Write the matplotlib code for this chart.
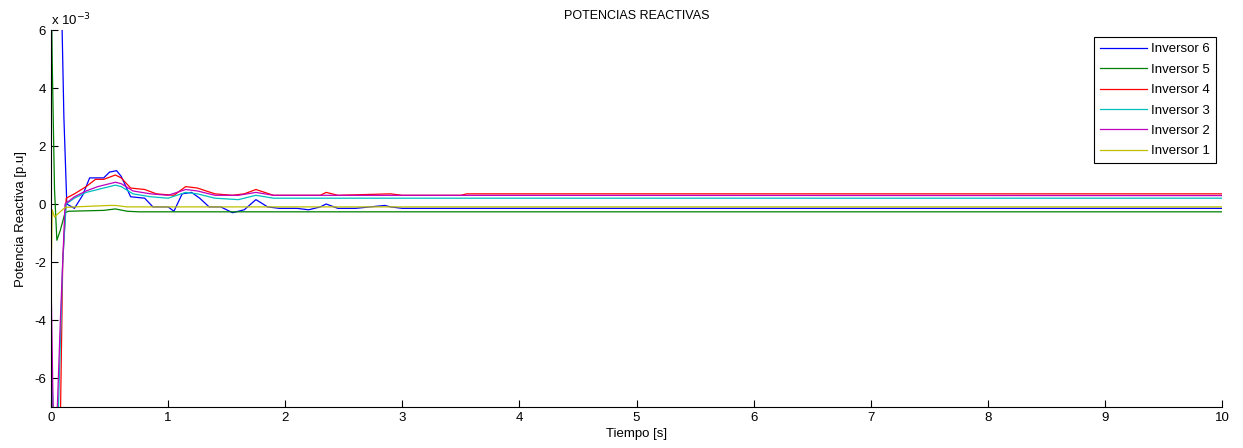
import matplotlib.pyplot as plt

plt.rcParams['font.family'] = ['Liberation Sans', 'DejaVu Sans']
plt.rcParams['axes.unicode_minus'] = False

# values in units of 1e-3 p.u.
t6 = [0, 0.005, 0.09, 0.11, 0.135, 0.2, 0.27, 0.33, 0.45, 0.5, 0.56, 0.6, 0.68, 0.8, 0.87,
      1.0, 1.05, 1.12, 1.2, 1.27, 1.35, 1.45, 1.55, 1.65, 1.75, 1.85, 1.95, 2.1, 2.2, 2.3,
      2.35, 2.45, 2.6, 2.85, 2.9, 3.0, 3.5, 3.7, 10]
q6 = [-2, 7, 7, 3, 0.0, -0.15, 0.3, 0.9, 0.9, 1.1, 1.15, 0.95, 0.25, 0.2, -0.1,
      -0.1, -0.25, 0.35, 0.4, 0.2, -0.1, -0.1, -0.3, -0.2, 0.15, -0.1, -0.15, -0.15, -0.2, -0.1,
      0.0, -0.15, -0.15, -0.05, -0.1, -0.15, -0.15, -0.15, -0.15]

t5 = [0, 0.003, 0.01, 0.03, 0.05, 0.08, 0.12, 0.15, 0.45, 0.55, 0.65, 0.75, 10]
q5 = [7, 7, 5, 0.5, -1.25, -0.9, -0.3, -0.25, -0.22, -0.17, -0.25, -0.27, -0.27]

t4 = [0, 0.02, 0.05, 0.08, 0.1, 0.13, 0.2, 0.3, 0.38, 0.45, 0.55, 0.6, 0.68, 0.8, 0.9,
      1.05, 1.15, 1.25, 1.4, 1.55, 1.65, 1.75, 1.9, 2.3, 2.35, 2.45, 2.9, 3.0, 3.5, 3.55, 10]
q4 = [-5.5, -7.5, -7.5, -7.5, -2, 0.2, 0.35, 0.6, 0.85, 0.85, 1.0, 0.9, 0.55, 0.5, 0.35,
      0.3, 0.6, 0.55, 0.35, 0.3, 0.35, 0.5, 0.3, 0.3, 0.4, 0.3, 0.35, 0.3, 0.3, 0.35, 0.35]

t3 = [0, 0.02, 0.06, 0.1, 0.13, 0.2, 0.3, 0.45, 0.55, 0.6, 0.7, 0.85, 1.0, 1.15, 1.25,
      1.4, 1.6, 1.75, 1.9, 10]
q3 = [-5, -7.5, -7.5, -2, 0.0, 0.2, 0.4, 0.55, 0.65, 0.6, 0.35, 0.25, 0.2, 0.4, 0.35,
      0.2, 0.15, 0.3, 0.2, 0.2]

t2 = [0, 0.02, 0.05, 0.08, 0.12, 0.2, 0.3, 0.4, 0.55, 0.6, 0.7, 0.85, 1.0, 1.15, 1.25,
      1.4, 1.6, 1.75, 1.9, 10]
q2 = [-2.5, -7.5, -7.5, -4, 0.0, 0.25, 0.45, 0.6, 0.75, 0.7, 0.45, 0.35, 0.3, 0.5, 0.45,
      0.3, 0.3, 0.4, 0.3, 0.29]

t1 = [0, 0.005, 0.01, 0.03, 0.07, 0.12, 0.2, 0.5, 0.55, 0.65, 10]
q1 = [-2.5, -1.5, -0.2, -0.45, -0.3, -0.12, -0.1, -0.05, -0.05, -0.1, -0.1]

series = [
    (t6, q6, '#0000ff', 'Inversor 6'),
    (t5, q5, '#008000', 'Inversor 5'),
    (t4, q4, '#ff0000', 'Inversor 4'),
    (t3, q3, '#00bfbf', 'Inversor 3'),
    (t2, q2, '#bf00bf', 'Inversor 2'),
    (t1, q1, '#bfbf00', 'Inversor 1'),
]

fig = plt.figure(figsize=(12.43, 4.48), dpi=100)
ax = fig.add_axes([51/1243, 1 - 407/448, (1222 - 51)/1243, (407 - 30)/448])

for t, q, c, lab in series:
    ax.plot(t, q, color=c, lw=0.9, label=lab)

ax.set_xlim(0, 10)
ax.set_ylim(-7, 6)
ax.set_xticks(range(0, 11))
ax.set_yticks([-6, -4, -2, 0, 2, 4, 6])
ax.tick_params(direction='in', length=5, labelsize=9.5, top=False, right=False)
ax.spines['top'].set_visible(False)
ax.spines['right'].set_visible(False)

ax.set_title('POTENCIAS REACTIVAS', fontsize=9, pad=8)
ax.set_xlabel('Tiempo [s]', fontsize=9.5, labelpad=3)
ax.set_ylabel('Potencia Reactiva [p.u]', fontsize=9.5, labelpad=5)
ax.text(0, 1.005, 'x 10$^{-3}$', transform=ax.transAxes, fontsize=9.5, va='bottom', ha='left')

leg = ax.legend(loc='upper right', bbox_to_anchor=(0.995, 0.981), borderaxespad=0,
                fontsize=9.5, fancybox=False, edgecolor='black', framealpha=1,
                handlelength=3.6, handletextpad=0.3, borderpad=0.45, labelspacing=0.62)
leg.get_frame().set_linewidth(0.8)

fig.savefig('out.png', dpi=100)
